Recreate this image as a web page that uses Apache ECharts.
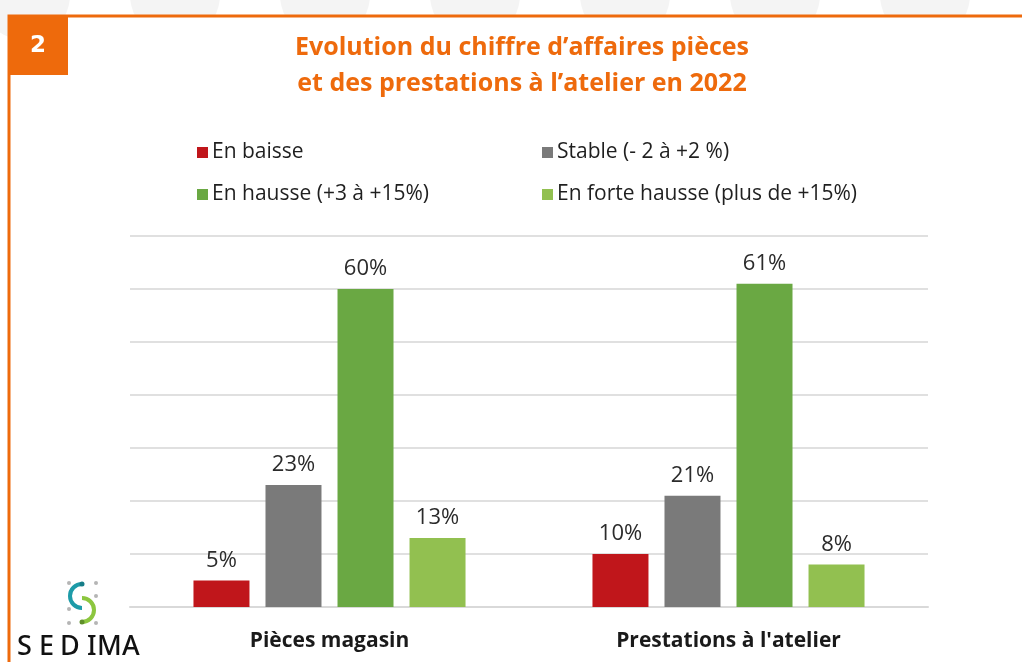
<!DOCTYPE html>
<html>
<head>
<meta charset="utf-8">
<script src="https://cdn.jsdelivr.net/npm/echarts@6/dist/echarts.min.js"></script>
<style>
  html,body{margin:0;padding:0;background:#fff;}
  #main{width:1022px;height:662px;}
</style>
</head>
<body>
<div id="main"></div>
<script>
// données
var categories = ["Pièces magasin", "Prestations à l'atelier"];
var seriesNames = ["En baisse", "Stable (- 2 à +2 %)", "En hausse (+3 à +15%)", "En forte hausse (plus de +15%)"];
var enBaisse = [5, 10];
var stable = [23, 21];
var enHausse = [60, 61];
var forteHausse = [13, 8];
var colors = ["#c0161b", "#7a7a7a", "#6aa843", "#92c050"];

var myChart = echarts.init(document.getElementById('main'));

var font = "Open Sans";
var values = [enBaisse, stable, enHausse, forteHausse];

// une légende par entrée pour la grille 2x2
var legendPos = [[192, 137], [537, 137], [192, 179], [537, 179]];
var legends = [];
var series = [];
for (var i = 0; i < seriesNames.length; i++) {
  legends.push({
    left: legendPos[i][0], top: legendPos[i][1],
    data: [seriesNames[i]],
    icon: 'rect', itemWidth: 11, itemHeight: 11, itemGap: 6,
    selectedMode: false,
    textStyle: {fontFamily: font, fontSize: 21, color: '#1f1f1f', padding: [0, 0, 0, -1]}
  });
  series.push({
    name: seriesNames[i],
    type: 'bar',
    barWidth: 56,
    barGap: '28.6%',
    itemStyle: {color: colors[i]},
    label: {
      show: true, position: 'top', distance: 9,
      formatter: '{c}%',
      fontFamily: font, fontSize: 22, color: '#2b2b2b'
    },
    data: values[i]
  });
}

// cercles de fond en haut
var circles = [];
for (var k = 0; k < 7; k++) {
  circles.push({type: 'circle', shape: {cx: 25 + k * 150, cy: -5, r: 45}, style: {fill: '#f4f4f4'}, z: -10});
}

// lettres du logo, espacées
var logoLetters = [['S', 17], ['E', 39], ['D', 60], ['I', 87], ['M', 97], ['A', 122]];
var logoText = logoLetters.map(function (l) {
  return {type: 'text', x: l[1], y: 647, style: {text: l[0], fill: '#111', font: '500 27px "Noto Sans"', verticalAlign: 'middle'}};
});

var options = {
  backgroundColor: '#fff',
  animation: false,
  legend: legends,
  grid: {left: 130, right: 94, top: 236, bottom: 55},
  xAxis: {
    type: 'category',
    data: categories,
    axisLine: {lineStyle: {color: '#d9d9d9', width: 2}},
    axisTick: {show: false},
    axisLabel: {
      margin: 24,
      fontFamily: font, fontSize: 21, fontWeight: 'bold', color: '#1a1a1a'
    }
  },
  yAxis: {
    type: 'value',
    min: 0, max: 70, interval: 10,
    axisLabel: {show: false},
    axisLine: {show: false},
    axisTick: {show: false},
    splitLine: {lineStyle: {color: '#e0e0e0', width: 2}}
  },
  series: series,
  graphic: circles.concat([
    // panneau blanc + cadre orange
    {type: 'rect', shape: {x: 9, y: 16, width: 1030, height: 660}, style: {fill: '#fff', stroke: '#ee6a0c', lineWidth: 3}, z: -5},
    {type: 'rect', shape: {x: 8, y: 15, width: 60, height: 60}, style: {fill: '#ee6a0c'}, z: 10},
    {type: 'text', x: 38, y: 46, style: {text: '2', fill: '#fff', font: 'bold 23px "DejaVu Sans"', align: 'center', verticalAlign: 'middle'}, z: 11},
    // titre
    {type: 'text', x: 522, y: 48, style: {text: "Evolution du chiffre d’affaires pièces", fill: '#ee6a0c', font: 'bold 25px "Open Sans"', align: 'center', verticalAlign: 'middle'}, z: 10},
    {type: 'text', x: 522, y: 84, style: {text: "et des prestations à l’atelier en 2022", fill: '#ee6a0c', font: 'bold 25px "Open Sans"', align: 'center', verticalAlign: 'middle'}, z: 10},
    // logo SEDIMA
    {type: 'group', z: 10, children: [
      {type: 'circle', shape: {cx: 69, cy: 583, r: 2}, style: {fill: '#b5b5b5'}},
      {type: 'circle', shape: {cx: 96, cy: 583, r: 2}, style: {fill: '#b5b5b5'}},
      {type: 'circle', shape: {cx: 96, cy: 596, r: 2}, style: {fill: '#b5b5b5'}},
      {type: 'circle', shape: {cx: 69, cy: 609, r: 2}, style: {fill: '#b5b5b5'}},
      {type: 'circle', shape: {cx: 69, cy: 623, r: 2}, style: {fill: '#b5b5b5'}},
      {type: 'circle', shape: {cx: 96, cy: 623, r: 2}, style: {fill: '#b5b5b5'}},
      {type: 'arc', shape: {cx: 82, cy: 596, r: 12, startAngle: Math.PI * 0.5, endAngle: Math.PI * 1.5, clockwise: true}, style: {stroke: '#1d9ba8', lineWidth: 4, fill: null}},
      {type: 'arc', shape: {cx: 82, cy: 610, r: 12, startAngle: -Math.PI * 0.5, endAngle: Math.PI * 0.5, clockwise: true}, style: {stroke: '#8cc63f', lineWidth: 4, fill: null}},
      {type: 'circle', shape: {cx: 82, cy: 584, r: 2.5}, style: {fill: '#167d88'}},
      {type: 'circle', shape: {cx: 82, cy: 622, r: 2.5}, style: {fill: '#5f8f2a'}}
    ].concat(logoText)}
  ])
};

myChart.setOption(options);
</script>
</body>
</html>
